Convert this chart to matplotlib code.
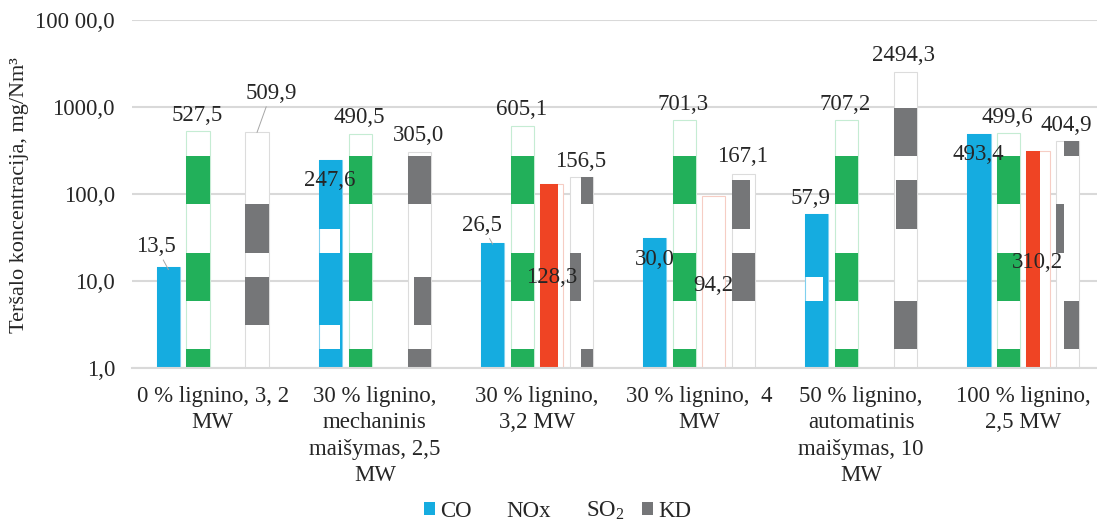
import matplotlib
matplotlib.use("Agg")
from matplotlib import pyplot as plt
from matplotlib.patches import Rectangle, Patch
from matplotlib.transforms import blended_transform_factory
from matplotlib.ticker import FixedLocator, NullLocator

plt.rcParams['font.family'] = ['Liberation Serif', 'DejaVu Serif']
plt.rcParams['mathtext.fontset'] = 'custom'
plt.rcParams['mathtext.rm'] = 'Liberation Serif'

categories = [
    "0 % lignino, 3, 2\nMW",
    "30 % lignino,\nmechaninis\nmaišymas, 2,5\nMW",
    "30 % lignino,\n3,2 MW",
    "30 % lignino,  4\nMW",
    "50 % lignino,\nautomatinis\nmaišymas, 10\nMW",
    "100 % lignino,\n2,5 MW",
]
co = [13.5, 247.6, 26.5, 30.0, 57.9, 493.4]
nox = [527.5, 490.5, 605.1, 701.3, 707.2, 499.6]
so2 = [None, None, 128.3, 94.2, None, 310.2]
kd = [509.9, 305.0, 156.5, 167.1, 2494.3, 404.9]
series_names = ["CO", "NOx", "SO$_\\mathregular{2}$", "KD"]
ytick_values = [1, 10, 100, 1000, 10000]
ytick_labels = ["1,0", "10,0", "100,0", "1000,0", "100 00,0"]

colors = ['#15ace0', '#22b05a', '#ef4424', '#757678']
edges = ['#7fd0ee', '#c5ecd3', '#f6cdc4', '#dcdcdc']
FS = 16.5

# the printed fill is broken into horizontal pieces: (row_lo, row_hi, x_from, x_to)
full = [(0, 14, 0, 1)]
nox_fill = [(0, 0, 0, 1), (3, 4, 0, 1), (7, 8, 0, 1)]
fills = [
    [full, [(0, 0, 0, 1), (1, 1, .93, 1), (2, 4, 0, 1), (5, 5, .93, 1), (6, 14, 0, 1)],
     full, full, [(0, 2, 0, 1), (3, 3, .76, 1), (4, 14, 0, 1)], full],
    [nox_fill] * 6,
    [[], [], [(0, 14, 0, .76)], [], [], [(0, 14, 0, .59)]],
    [[(2, 3, 0, 1), (5, 6, 0, 1)],
     [(0, 0, 0, 1), (2, 3, .26, 1), (7, 8, 0, 1)],
     [(0, 0, .51, 1), (3, 4, 0, .51), (7, 8, .51, 1)],
     [(3, 4, 0, 1), (6, 7, 0, .8)],
     [(1, 2, 0, 1), (6, 7, .1, 1), (9, 10, 0, 1)],
     [(1, 2, .35, 1), (5, 6, 0, .35), (9, 9, .35, 1)]],
]

# label offsets in pixels from the top of each bar
label_off = [
    [(-12.5, 23), (-1, -21), (-10.5, 19), (0, -20.5), (-6, 16), (-1, -21)],
    [(-1, 16)] * 6,
    [None, None, (0, -93), (0, -89), None, (-1, -111)],
    [(14, 39), (-0.5, 16), (-1, 16), (-1, 18), (-1.5, 16.5), (-1.5, 16)],
]
leaders = {(0, 0), (0, 2), (3, 0)}


def row_bound(j):
    if j <= 0:
        return 0.0
    return 0.0546 + 0.06925 * (j - 1)


def main():
    fig = plt.figure(figsize=(10.97, 5.23), dpi=100)
    ax = fig.add_axes([131.7 / 1097, 1 - 368 / 523, 972.6 / 1097, 348 / 523])
    ax.set_yscale('log')
    ax.set_ylim(1, 10000)
    ax.set_xlim(-0.5, len(categories) - 0.5)
    trans = blended_transform_factory(ax.transData, ax.transAxes)

    width = 0.142
    step = 0.182
    all_series = [co, nox, so2, kd]
    for s, values in enumerate(all_series):
        offset = (s - 1.5) * step
        for i, v in enumerate(values):
            if v is None:
                continue
            x = i + offset
            bar = ax.bar(x, v, width, bottom=1, color='white',
                         edgecolor=edges[s], linewidth=0.8, zorder=2)[0]
            for r0, r1, f0, f1 in fills[s][i]:
                y0 = row_bound(r0)
                y1 = row_bound(r1 + 1)
                rect = Rectangle((x - width / 2 + f0 * width, y0),
                                 (f1 - f0) * width, y1 - y0,
                                 transform=trans, facecolor=colors[s],
                                 edgecolor='none', zorder=2.5)
                ax.add_patch(rect)
                rect.set_clip_path(bar)
            dx, dy = label_off[s][i]
            txt = f"{v:.1f}".replace('.', ',')
            arrow = None
            if (s, i) in leaders:
                arrow = dict(arrowstyle='-', color='#a6a6a6', lw=0.7,
                             shrinkA=0, shrinkB=0)
            ax.annotate(txt, (x, v), xytext=(dx, dy), textcoords='offset pixels',
                        ha='center', va='center', fontsize=FS, color='#262626',
                        arrowprops=arrow, zorder=5)

    ax.yaxis.set_major_locator(FixedLocator(ytick_values))
    ax.yaxis.set_minor_locator(NullLocator())
    ax.set_yticklabels(ytick_labels)
    ax.set_xticks(range(len(categories)))
    ax.set_xticklabels(categories, linespacing=1.33)
    ax.tick_params(axis='both', length=0, labelsize=FS, colors='#262626')
    ax.tick_params(axis='y', pad=12)
    ax.tick_params(axis='x', pad=13)
    ax.yaxis.grid(True, color='#d9d9d9', lw=1.5)
    ax.set_axisbelow(True)
    for side in ['left', 'right', 'top']:
        ax.spines[side].set_visible(False)
    ax.spines['bottom'].set_color('#d9d9d9')
    ax.spines['bottom'].set_linewidth(1.5)

    fig.text(20 / 1097, 1 - 195 / 523, "Teršalo koncentracija, mg/Nm³",
             rotation=90, ha='center', va='center', fontsize=16, color='#262626')

    handles = [Patch(facecolor=colors[0]), Patch(facecolor='white'),
               Patch(facecolor='white'), Patch(facecolor=colors[3])]
    fig.legend(handles, series_names, loc='center', ncol=4,
               bbox_to_anchor=(558 / 1097, 1 - 511 / 523), frameon=False,
               fontsize=FS, handlelength=0.45, handleheight=0.45,
               handletextpad=0.25, columnspacing=0.8, labelcolor='#262626')

    fig.savefig("out.png", dpi=100)


if __name__ == "__main__":
    main()
